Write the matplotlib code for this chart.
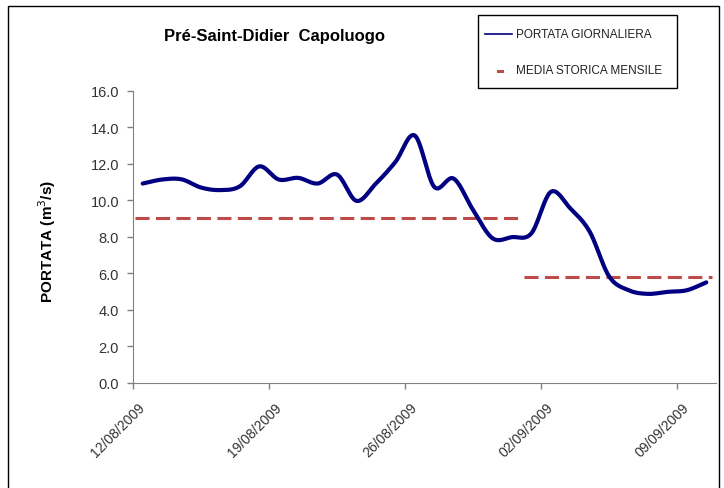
import numpy as np
import matplotlib
matplotlib.use("Agg")
import matplotlib.pyplot as plt
import matplotlib.dates as mdates
import matplotlib.transforms as mtransforms
from matplotlib.lines import Line2D
from matplotlib.patches import Rectangle
import datetime as dt

plt.rcParams['font.family'] = ['Liberation Sans', 'DejaVu Sans']

# ---- data ----
start_date = "2009-08-12"
portata = [10.91, 11.13, 11.14, 10.69, 10.55, 10.76, 11.85, 11.13, 11.22, 10.91,
           11.40, 9.96, 10.91, 12.09, 13.54, 10.73, 11.18, 9.46, 7.91, 7.97,
           8.18, 10.45, 9.55, 8.27, 5.82, 5.06, 4.86, 4.97, 5.06, 5.49]
media_values = [9.0, 5.8]          # agosto, settembre
tick_dates = ["2009-08-12", "2009-08-19", "2009-08-26", "2009-09-02", "2009-09-09"]
title = "Pré-Saint-Didier  Capoluogo"
ylabel = "PORTATA (m$^3$/s)"
legend_labels = ["PORTATA GIORNALIERA", "MEDIA STORICA MENSILE"]

# ---- helpers ----
def catmull_rom(x, y, n=20):
    x = np.asarray(x, float); y = np.asarray(y, float)
    px = np.concatenate([[2*x[0]-x[1]], x, [2*x[-1]-x[-2]]])
    py = np.concatenate([[2*y[0]-y[1]], y, [2*y[-1]-y[-2]]])
    xs, ys = [], []
    t = np.linspace(0, 1, n, endpoint=False)
    for i in range(1, len(px)-2):
        for arr, out in ((px, xs), (py, ys)):
            p0, p1, p2, p3 = arr[i-1], arr[i], arr[i+1], arr[i+2]
            out.append(0.5*((2*p1) + (-p0+p2)*t + (2*p0-5*p1+4*p2-p3)*t**2 + (-p0+3*p1-3*p2+p3)*t**3))
    xs.append([x[-1]]); ys.append([y[-1]])
    return np.concatenate(xs), np.concatenate(ys)

d0 = mdates.date2num(dt.datetime.strptime(start_date, "%Y-%m-%d"))
xdays = d0 + np.arange(len(portata)) + 0.5

W, H = 724, 489
fig = plt.figure(figsize=(W/100, H/100), dpi=100)
fig.patch.set_facecolor("white")
ax = fig.add_axes([133/W, 1-383.5/H, (716-133)/W, (383.5-91.7)/H])

sx, sy = catmull_rom(xdays, portata)
ax.plot(sx, sy, color="#000080", lw=3.0, solid_capstyle="round", solid_joinstyle="round", zorder=3)

# monthly mean lines over each month's days
sep_start = mdates.date2num(dt.datetime(2009, 9, 1))
end = d0 + len(portata)
segments = [(d0 + 0.1, sep_start - 0.17), (sep_start + 0.13, end - 0.2)]
for (a, b), v in zip(segments, media_values):
    ax.plot([a, b], [v, v], color="#BE4B48", lw=2.2, dashes=(4.6, 2.1), zorder=2)

ax.set_xlim(d0, end)
ax.set_ylim(0, 16)
ax.set_yticks(np.arange(0, 16.1, 2))
ax.yaxis.set_major_formatter(matplotlib.ticker.FormatStrFormatter("%.1f"))
ax.set_xticks([mdates.date2num(dt.datetime.strptime(t, "%Y-%m-%d")) for t in tick_dates])
ax.xaxis.set_major_formatter(mdates.DateFormatter("%d/%m/%Y"))
ax.tick_params(axis="both", colors="#808080", labelcolor="#333333", length=4, width=1)
ax.tick_params(axis="x", pad=5, labelsize=10)
ax.tick_params(axis="y", pad=6, labelsize=10.5)
offset = mtransforms.ScaledTranslation(5/100, -5/100, fig.dpi_scale_trans)
for lab in ax.get_xticklabels():
    lab.set_rotation(45); lab.set_ha("right"); lab.set_va("top"); lab.set_rotation_mode("anchor")
    lab.set_transform(lab.get_transform() + offset)
for s in ("top", "right"):
    ax.spines[s].set_visible(False)
for s in ("left", "bottom"):
    ax.spines[s].set_color("#808080")

# y label
fig.text(47/W, 1-241/H, ylabel, rotation=90, ha="center", va="center", fontsize=11, fontweight="bold")

# title
fig.text(274/W, 1-36/H, title, ha="center", va="center", fontsize=12, fontweight="bold")

# outer frame
fig.patches.append(Rectangle((8/W, -0.01), (719-8)/W, 1-7/H+0.01, transform=fig.transFigure,
                             fill=False, edgecolor="black", lw=1))

# legend box
fig.patches.append(Rectangle((478/W, 1-89/H), (677-478)/W, (89-16)/H, transform=fig.transFigure,
                             fill=False, edgecolor="black", lw=1))
fig.lines.append(Line2D([485/W, 512/W], [1-35/H, 1-35/H], transform=fig.transFigure, color="#000080", lw=1.2))
fig.lines.append(Line2D([498/W, 502/W], [1-71.5/H, 1-71.5/H], transform=fig.transFigure, color="#BE4B48", lw=2.2))
fig.text(516/W, 1-35.5/H, legend_labels[0], ha="left", va="center", fontsize=8.5, color="#222222")
fig.text(516/W, 1-71.5/H, legend_labels[1], ha="left", va="center", fontsize=8.5, color="#222222")

fig.savefig("out.png", dpi=100, facecolor="white")
